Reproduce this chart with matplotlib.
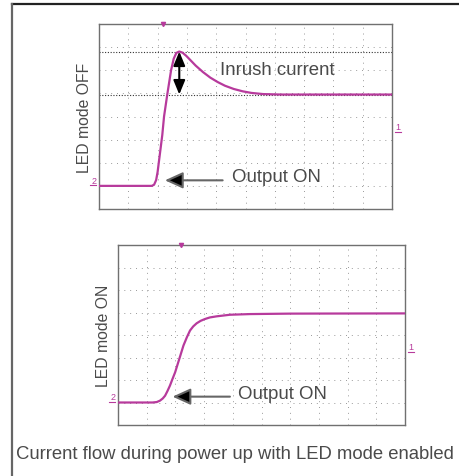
import matplotlib
matplotlib.use("Agg")
import matplotlib.pyplot as plt
from matplotlib.lines import Line2D

plt.rcParams['font.family'] = ['Liberation Sans', 'DejaVu Sans']

# ---- data (oscilloscope divisions) ----
top_t = [0, 1.80, 1.88, 1.95, 2.00, 2.05, 2.10, 2.16, 2.22, 2.33, 2.46, 2.55, 2.64, 2.74,
         2.85, 2.98, 3.11, 3.30, 3.55, 3.80, 4.05, 4.30, 4.60, 4.90, 5.20, 5.60, 6.20, 10.0]
top_i = [1.0, 1.0, 1.05, 1.25, 1.6, 2.1, 2.6, 3.2, 4.0, 4.95, 6.0, 6.5, 6.75, 6.81,
         6.76, 6.62, 6.45, 6.20, 5.92, 5.68, 5.49, 5.33, 5.19, 5.09, 5.02, 4.97, 4.95, 4.95]

bot_t = [0, 1.20, 1.35, 1.46, 1.56, 1.64, 1.72, 1.81, 1.90, 1.99, 2.10, 2.20, 2.28, 2.40,
         2.51, 2.62, 2.74, 2.88, 3.03, 3.20, 3.44, 3.90, 4.60, 6.00, 10.0]
bot_i = [1.0, 1.0, 1.02, 1.08, 1.18, 1.30, 1.50, 1.75, 2.05, 2.34, 2.79, 3.20, 3.53, 3.90,
         4.20, 4.38, 4.52, 4.63, 4.71, 4.78, 4.83, 4.90, 4.93, 4.95, 4.96]

peak_level = 6.81
steady_level = 4.95
peak_time = 2.74
trigger_top = 2.17
trigger_bot = 2.18
marker1_top = 3.33
marker1_bot = 3.24

ylabels = ["LED mode OFF", "LED mode ON"]
caption = "Current flow during power up with LED mode enabled"

TRACE = '#b73a9c'
TEXT = '#4a4a4a'

fig = plt.figure(figsize=(4.59, 4.77), dpi=100)

# outer border lines
fig.add_artist(Line2D([12/459, 1.0], [1-5/477, 1-5/477], color='#222222', lw=1.6,
                      transform=fig.transFigure))
fig.add_artist(Line2D([12/459, 12/459], [0, 1-5/477], color='#666666', lw=1.6,
                      transform=fig.transFigure))

ax1 = fig.add_axes([99/459, 1-210/477, 293/459, 185/477])
ax2 = fig.add_axes([118/459, 1-426/477, 287/459, 180/477])


def scope(ax, t, i, label, trig, m1):
    ax.set_xlim(0, 10)
    ax.set_ylim(0, 8)
    ax.set_xticks(range(0, 11))
    ax.set_yticks(range(0, 9))
    ax.tick_params(length=0, labelleft=False, labelbottom=False)
    ax.grid(True, color='#9a9a9a', lw=0.7, linestyle=(0, (1, 5)))
    for s in ax.spines.values():
        s.set_color('#707070')
        s.set_linewidth(1.0)
    ax.plot(t, i, color=TRACE, lw=1.6, zorder=3, solid_capstyle='round')
    ax.plot([trig], [8], marker='v', color=TRACE, ms=3, clip_on=False, zorder=4)
    ax.text(-0.1, i[0] + 0.05, '2', color=TRACE, fontsize=6.5,
            ha='right', va='bottom')
    ax.plot([-0.32, -0.1], [i[0] + 0.02, i[0] + 0.02], color=TRACE, lw=0.8, clip_on=False)
    ax.text(10.1, m1 + 0.05, '1', color=TRACE, fontsize=6.5,
            ha='left', va='bottom')
    ax.plot([10.1, 10.32], [m1 + 0.02, m1 + 0.02], color=TRACE, lw=0.8, clip_on=False)
    ax.set_ylabel(label, fontsize=11.3, color=TEXT, labelpad=5)


scope(ax1, top_t, top_i, ylabels[0], trigger_top, marker1_top)
scope(ax2, bot_t, bot_i, ylabels[1], trigger_bot, marker1_bot)

# reference lines and inrush arrow
for lv in (peak_level, steady_level):
    ax1.axhline(lv, color='#333333', lw=0.8, linestyle=(0, (1, 1.5)), zorder=2)
ax1.annotate('', xy=(peak_time, peak_level), xytext=(peak_time, steady_level),
             arrowprops=dict(arrowstyle='<|-|>,head_length=0.85,head_width=0.35',
                             mutation_scale=10, color='black', lw=1.5,
                             shrinkA=0, shrinkB=0), zorder=5)
ax1.text(4.13, 6.02, 'Inrush current', fontsize=13.4, color=TEXT, va='center')

# Output ON arrows
ax1.annotate('', xy=(2.25, 1.24), xytext=(4.22, 1.24),
             arrowprops=dict(arrowstyle='-|>,head_length=1.1,head_width=0.5',
                             mutation_scale=10, fc='black', ec='#666666', lw=1.5,
                             shrinkA=0, shrinkB=0))
ax1.text(4.53, 1.39, 'Output ON', fontsize=13.4, color=TEXT, va='center')

ax2.annotate('', xy=(1.90, 1.26), xytext=(3.90, 1.26),
             arrowprops=dict(arrowstyle='-|>,head_length=1.1,head_width=0.5',
                             mutation_scale=10, fc='black', ec='#666666', lw=1.5,
                             shrinkA=0, shrinkB=0))
ax2.text(4.19, 1.42, 'Output ON', fontsize=13.4, color=TEXT, va='center')

fig.text(16/459, 1-455/477, caption, fontsize=13.35, color=TEXT, va='center', ha='left')

fig.savefig('out.png', dpi=100)
